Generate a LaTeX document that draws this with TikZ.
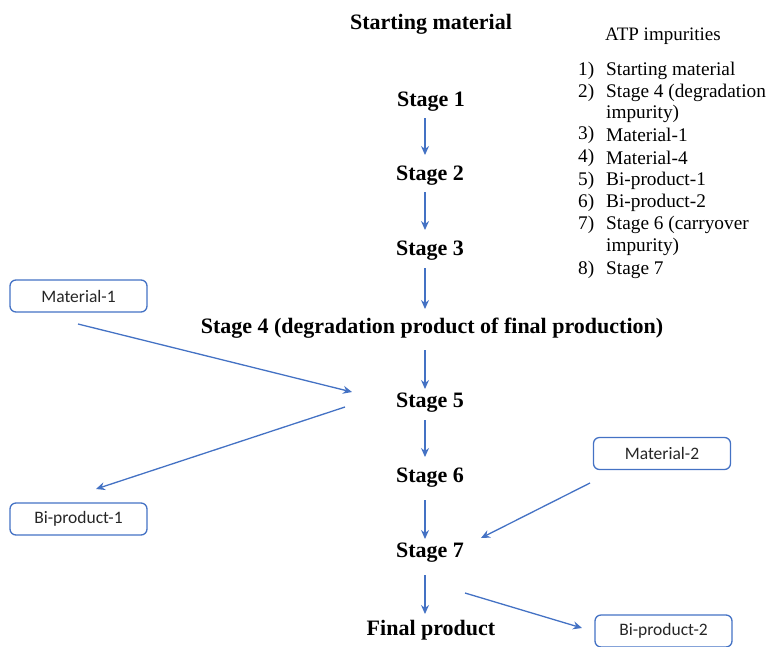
\documentclass[tikz,border=0pt]{standalone}
\usepackage{fontspec}
\setmainfont{Liberation Serif}
\newfontfamily\boxfont{Carlito}
\usetikzlibrary{arrows.meta}
\definecolor{flowblue}{HTML}{4472C4}
\tikzset{
  stagetxt/.style={font=\fontsize{22}{26}\selectfont\bfseries, inner sep=0pt},
  sidebox/.style={draw=flowblue, line width=1.3pt, rounded corners=6pt, minimum width=137pt, minimum height=32pt, font=\boxfont\fontsize{17.5}{20}\selectfont, text=black!85, inner sep=0pt},
  flow/.style={draw=flowblue, line width=1.3pt, -{Stealth[length=9pt,width=8pt]}},
  listtxt/.style={font=\fontsize{19.3}{22}\selectfont, anchor=west, inner sep=0pt}
}
\begin{document}
\begin{tikzpicture}[x=1pt,y=-1pt]
\useasboundingbox (0,0) rectangle (768,646);
% stages
\node[stagetxt] (sm) at (431,24) {Starting material};
\node[stagetxt] (s1) at (431,102) {Stage 1};
\node[stagetxt] (s2) at (430,176) {Stage 2};
\node[stagetxt] (s3) at (430,251) {Stage 3};
\node[stagetxt] (s4) at (432,328) {Stage 4 (degradation product of final production)};
\node[stagetxt] (s5) at (430,403) {Stage 5};
\node[stagetxt] (s6) at (430,478) {Stage 6};
\node[stagetxt] (s7) at (430,553) {Stage 7};
\node[stagetxt] (fp) at (431,630) {Final product};
% side boxes
\node[sidebox] (m1) at (78.5,296) {Material-1};
\node[sidebox] (b1) at (78.5,519) {Bi-product-1};
\node[sidebox] (m2) at (662,453.5) {Material-2};
\node[sidebox] (b2) at (663.5,631) {Bi-product-2};
% vertical arrows
\coordinate (a1s) at (425,118); \coordinate (a1e) at (425,155);
\coordinate (a2s) at (425,192); \coordinate (a2e) at (425,230);
\coordinate (a3s) at (425,268); \coordinate (a3e) at (425,309);
\coordinate (a4s) at (425,350); \coordinate (a4e) at (425,389);
\coordinate (a5s) at (425,420); \coordinate (a5e) at (425,457);
\coordinate (a6s) at (425,500); \coordinate (a6e) at (425,539);
\coordinate (a7s) at (425,575); \coordinate (a7e) at (425,614);
\draw[flow] (a1s) -- (a1e);
\draw[flow] (a2s) -- (a2e);
\draw[flow] (a3s) -- (a3e);
\draw[flow] (a4s) -- (a4e);
\draw[flow] (a5s) -- (a5e);
\draw[flow] (a6s) -- (a6e);
\draw[flow] (a7s) -- (a7e);
% diagonal arrows
\coordinate (d1s) at (78,324); \coordinate (d1e) at (352,392);
\coordinate (d2s) at (345,407); \coordinate (d2e) at (96,489);
\coordinate (d3s) at (590,483); \coordinate (d3e) at (481,538);
\coordinate (d4s) at (465,593); \coordinate (d4e) at (582,628);
\draw[flow] (d1s) -- (d1e);
\draw[flow] (d2s) -- (d2e);
\draw[flow] (d3s) -- (d3e);
\draw[flow] (d4s) -- (d4e);
% list
\node[font=\fontsize{19}{22}\selectfont, inner sep=0pt] (atp) at (663,36) {ATP impurities};
\foreach \n/\y/\t in {1/71/Starting material, 2/93/Stage 4 (degradation, 3/135/Material-1, 4/158/Material-4, 5/181/Bi-product-1, 6/203/Bi-product-2, 7/225/Stage 6 (carryover, 8/270/Stage 7}{
  \node[listtxt] (num\n) at (578,\y) {\n)};
  \node[listtxt] (it\n) at (606,\y) {\t};
}
\node[listtxt] (it2b) at (606,114) {impurity)};
\node[listtxt] (it7b) at (606,247) {impurity)};
\end{tikzpicture}
\end{document}
